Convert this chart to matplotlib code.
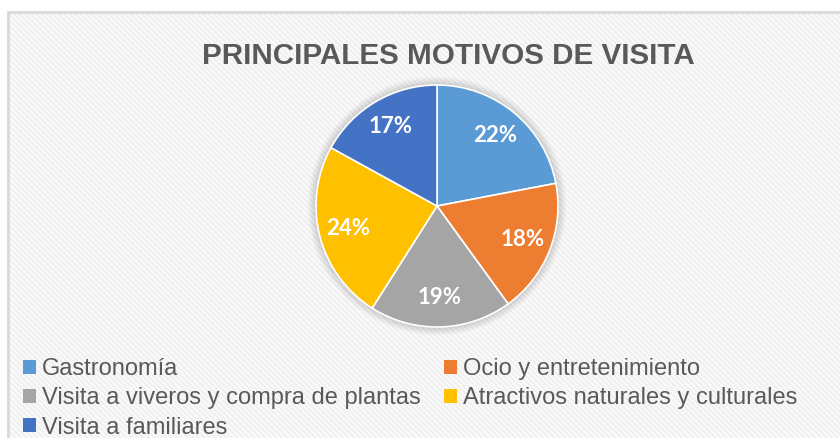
import matplotlib.pyplot as plt
from matplotlib.patches import Rectangle, Patch, Circle

categories = ["Gastronomía", "Ocio y entretenimiento", "Visita a viveros y compra de plantas",
              "Atractivos naturales y culturales", "Visita a familiares"]
values = [22, 18, 19, 24, 17]
colors = ["#5B9BD5", "#ED7D31", "#A5A5A5", "#FFC000", "#4472C4"]
title = "PRINCIPALES MOTIVOS DE VISITA"

W, H = 840, 438
plt.rcParams['hatch.linewidth'] = 2.0
fig = plt.figure(figsize=(W / 100, H / 100), dpi=100)
fig.patch.set_facecolor("white")

# chart area: white with light diagonal stripes and a grey border
fig.add_artist(Rectangle((8 / W, 0), 1, 1 - 12 / H, transform=fig.transFigure,
                         facecolor="white", edgecolor="#f1f1f1", hatch="\\\\\\\\\\\\", lw=0, zorder=0))
fig.add_artist(Rectangle((8 / W, -0.05), 1, 1.05 - 12 / H, transform=fig.transFigure,
                         facecolor="none", edgecolor="#d9d9d9", lw=2, zorder=1))

fig.text(448 / W, 1 - 64 / H, title, ha="center", va="baseline", fontsize=21.3,
         fontweight="bold", color="#595959", family="Liberation Sans")

# pie, center (437, 206) px, radius 121 px
cx, cy, r = 437, 206, 121
pad = 12
ax = fig.add_axes([(cx - r - pad) / W, (H - cy - r - pad) / H,
                   2 * (r + pad) / W, 2 * (r + pad) / H])
lim = (r + pad) / r

# soft shadow around the pie
for k in range(8):
    ax.add_patch(Circle((0, 0), 1 + 0.07 * (k + 1) / 8, color="black", alpha=0.018, lw=0, zorder=0))

wedges, texts, autotexts = ax.pie(values, colors=colors, startangle=90, counterclock=False,
                                  autopct="%1.0f%%", pctdistance=0.76,
                                  wedgeprops=dict(edgecolor="white", linewidth=1.2, zorder=2),
                                  textprops=dict(color="white", fontsize=16, fontweight="bold",
                                                 family="Lato", zorder=3))
ax.set_xlim(-lim, lim)
ax.set_ylim(-lim, lim)
ax.set_aspect("equal")
ax.axis("off")

# legend filled row by row (matplotlib fills columns first)
order = [0, 2, 4, 1, 3]
handles = [Patch(facecolor=colors[i], edgecolor="none") for i in order]
labels = [categories[i] for i in order]
leg = fig.legend(handles, labels, ncol=2, loc="upper left", bbox_to_anchor=(23 / W, 1 - 358 / H),
                 frameon=False, handlelength=0.55, handleheight=0.55,
                 handletextpad=0.25, columnspacing=1.0, labelspacing=0.31,
                 borderpad=0, borderaxespad=0,
                 prop=dict(family="Liberation Sans", size=17))
for t in leg.get_texts():
    t.set_color("#595959")

fig.savefig("out.png", dpi=100)
